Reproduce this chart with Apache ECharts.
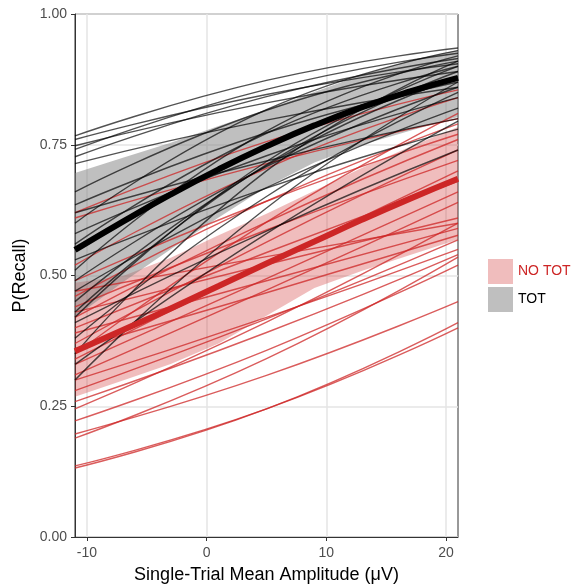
<!DOCTYPE html>
<html>
<head>
<meta charset="utf-8">
<script src="https://cdn.jsdelivr.net/npm/echarts@6/dist/echarts.min.js"></script>
<style>
  html, body { margin: 0; padding: 0; background: #fff; }
  #chart { width: 573px; height: 585px; }
</style>
</head>
<body>
<div id="chart"></div>
<script>
// Predicted recall probability vs. single-trial mean amplitude, TOT vs NO TOT.

// x positions (µV) at which each subject curve is sampled
const curveX = [-11, 5, 21];

// Per-subject curves, TOT condition: P(Recall) at x = -11, 5, 21
const totCurves = [
  [0.767, 0.873, 0.935], [0.760, 0.846, 0.905], [0.748, 0.830, 0.890],
  [0.741, 0.856, 0.925], [0.727, 0.842, 0.915], [0.714, 0.797, 0.860],
  [0.660, 0.816, 0.910], [0.635, 0.773, 0.870], [0.620, 0.719, 0.800],
  [0.600, 0.817, 0.930], [0.580, 0.729, 0.840], [0.560, 0.772, 0.900],
  [0.530, 0.667, 0.780], [0.510, 0.776, 0.920], [0.490, 0.708, 0.860],
  [0.470, 0.668, 0.820], [0.450, 0.710, 0.880], [0.430, 0.712, 0.890],
  [0.410, 0.585, 0.740], [0.380, 0.651, 0.850], [0.350, 0.700, 0.910],
  [0.300, 0.629, 0.870], [0.330, 0.580, 0.795], [0.420, 0.718, 0.900]
];

// Per-subject curves, NO TOT condition: P(Recall) at x = -11, 5, 21
const noTotCurves = [
  [0.620, 0.756, 0.855], [0.610, 0.714, 0.800], [0.520, 0.705, 0.840],
  [0.490, 0.642, 0.770], [0.470, 0.536, 0.600], [0.460, 0.642, 0.790],
  [0.440, 0.587, 0.720], [0.430, 0.521, 0.610], [0.420, 0.602, 0.760],
  [0.400, 0.544, 0.680], [0.390, 0.490, 0.590], [0.370, 0.564, 0.740],
  [0.360, 0.467, 0.577], [0.340, 0.523, 0.700], [0.330, 0.494, 0.660],
  [0.310, 0.472, 0.640], [0.300, 0.420, 0.550], [0.280, 0.417, 0.568],
  [0.259, 0.391, 0.540], [0.245, 0.411, 0.600], [0.222, 0.357, 0.520],
  [0.197, 0.309, 0.450], [0.189, 0.341, 0.535], [0.136, 0.245, 0.400],
  [0.132, 0.245, 0.410], [0.350, 0.602, 0.810]
];

// Group-level fit and confidence band
const bandX = [-11, -7, -3, 1, 5, 9, 13, 17, 21];
const totMean  = [0.549, 0.603, 0.655, 0.703, 0.747, 0.787, 0.822, 0.852, 0.878];
const totLower = [0.420, 0.487, 0.550, 0.611, 0.669, 0.716, 0.750, 0.777, 0.803];
const totUpper = [0.696, 0.725, 0.754, 0.786, 0.817, 0.851, 0.884, 0.911, 0.931];
const noTotMean  = [0.355, 0.396, 0.437, 0.480, 0.523, 0.565, 0.607, 0.647, 0.685];
const noTotLower = [0.268, 0.299, 0.331, 0.370, 0.423, 0.476, 0.509, 0.539, 0.569];
const noTotUpper = [0.486, 0.499, 0.534, 0.577, 0.618, 0.662, 0.706, 0.746, 0.784];

// Axis ticks
const xTicks = [-10, 0, 10, 20];
const yTicks = [0, 0.25, 0.5, 0.75, 1];

const RED = '#cd2626';
const RED_THIN = 'rgba(205,38,38,0.75)';
const BLACK_THIN = 'rgba(0,0,0,0.68)';
const PINK_FILL = 'rgba(205,38,38,0.3)';
const GREY_FILL = 'rgba(128,128,128,0.5)';
const FONT = 'Liberation Sans, Arial, Helvetica, sans-serif';

function bandSeries(name, lower, upper, fill) {
  return {
    type: 'custom',
    name: name,
    coordinateSystem: 'cartesian2d',
    clip: true,
    silent: true,
    z: 1,
    itemStyle: { color: fill },
    encode: { x: 0, y: [1, 2] },
    data: bandX.map((x, i) => [x, lower[i], upper[i]]),
    renderItem: function (params, api) {
      if (params.dataIndex !== 0) return null;
      const pts = [];
      for (let i = 0; i < bandX.length; i++) pts.push(api.coord([bandX[i], upper[i]]));
      for (let i = bandX.length - 1; i >= 0; i--) pts.push(api.coord([bandX[i], lower[i]]));
      return { type: 'polygon', shape: { points: pts }, style: { fill: fill } };
    }
  };
}

function curveSeries(vals, color, width, z, xArr) {
  return {
    type: 'line',
    data: xArr.map((x, i) => [x, vals[i]]),
    showSymbol: false,
    smooth: true,
    silent: true,
    z: z,
    lineStyle: { color: color, width: width },
    emphasis: { disabled: true }
  };
}

const series = [
  bandSeries('NO TOT', noTotLower, noTotUpper, PINK_FILL),
  bandSeries('TOT', totLower, totUpper, GREY_FILL)
];
noTotCurves.forEach(c => series.push(curveSeries(c, RED_THIN, 1.4, 3, curveX)));
totCurves.forEach(c => series.push(curveSeries(c, BLACK_THIN, 1.4, 3, curveX)));
series.push(curveSeries(noTotMean, RED, 6, 5, bandX));
series.push(curveSeries(totMean, '#000000', 6, 5, bandX));

const chart = echarts.init(document.getElementById('chart'), null, { renderer: 'canvas' });
chart.setOption({
  animation: false,
  backgroundColor: '#ffffff',
  textStyle: { fontFamily: FONT },
  grid: {
    left: 75, top: 14, right: 115, bottom: 48,
    outerBoundsMode: 'none',
    containLabel: false,
    show: true, borderColor: '#333333', borderWidth: 1, backgroundColor: 'transparent'
  },
  legend: {
    orient: 'vertical',
    left: 488, top: 259,
    itemWidth: 25, itemHeight: 25, itemGap: 3,
    padding: 0,
    selectedMode: false,
    textStyle: { fontSize: 14, fontFamily: FONT },
    data: [
      { name: 'NO TOT', icon: 'rect', itemStyle: { color: PINK_FILL }, textStyle: { color: RED } },
      { name: 'TOT', icon: 'rect', itemStyle: { color: GREY_FILL }, textStyle: { color: '#000000' } }
    ]
  },
  xAxis: {
    type: 'value',
    min: -11, max: 21,
    name: 'Single-Trial Mean Amplitude (\u03bcV)',
    nameLocation: 'middle', nameGap: 29,
    nameTextStyle: { fontSize: 18, color: '#000000', fontFamily: FONT },
    axisLine: { show: true, onZero: false, lineStyle: { color: '#333333', width: 1 } },
    axisTick: { show: true, length: 4, lineStyle: { color: '#333333' }, customValues: xTicks },
    axisLabel: { fontSize: 14, color: '#4d4d4d', margin: 9, customValues: xTicks },
    splitLine: { show: true, lineStyle: { color: '#e5e5e5', width: 1.5 } }
  },
  yAxis: {
    type: 'value',
    min: 0, max: 1, interval: 0.25,
    name: 'P(Recall)',
    nameLocation: 'middle', nameGap: 46,
    nameTextStyle: { fontSize: 18, color: '#000000', fontFamily: FONT },
    axisLine: { show: true, onZero: false, lineStyle: { color: '#333333', width: 1 } },
    axisTick: { show: true, length: 4, lineStyle: { color: '#333333' }, customValues: yTicks },
    axisLabel: { fontSize: 14, color: '#4d4d4d', margin: 8, customValues: yTicks,
      formatter: v => v.toFixed(2) },
    splitLine: { show: true, lineStyle: { color: '#e5e5e5', width: 1.5 } }
  },
  series: series
});
</script>
</body>
</html>
